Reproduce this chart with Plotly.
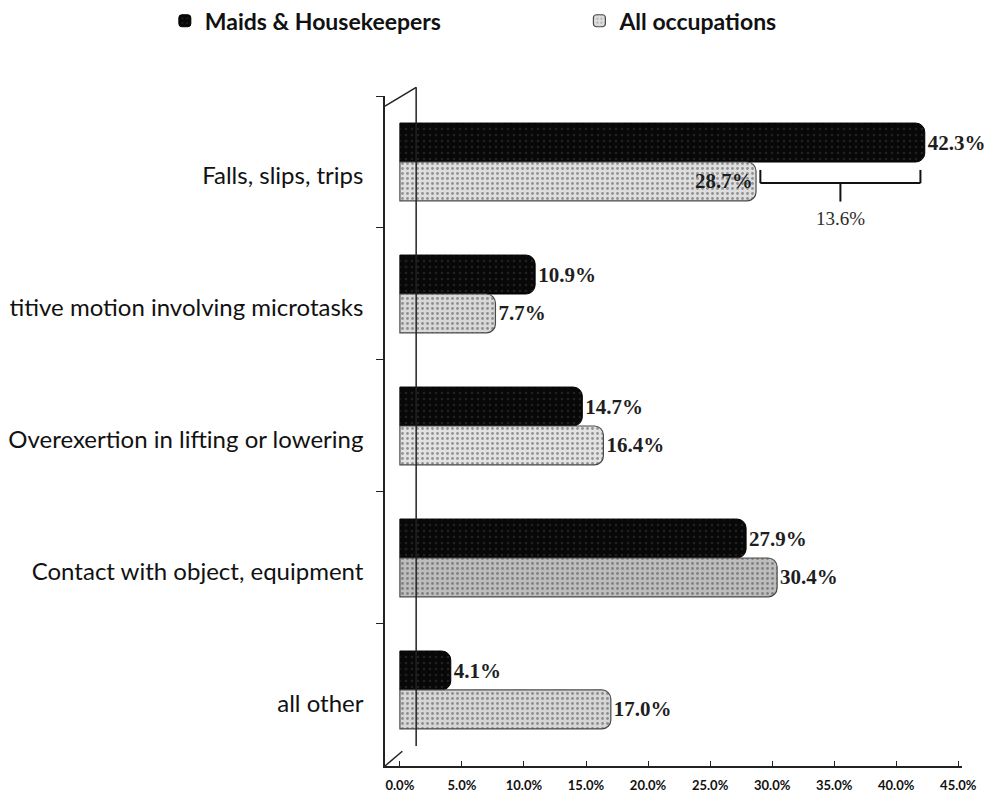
import plotly.graph_objects as go

# Injury event categories (top to bottom) and shares of injuries, in percent
categories = [
    "Falls, slips, trips",
    "titive motion involving microtasks",
    "Overexertion in lifting or lowering",
    "Contact with object, equipment",
    "all other",
]
maids = [42.3, 10.9, 14.7, 27.9, 4.1]
all_occ = [28.7, 7.7, 16.4, 30.4, 17.0]
series_names = ["Maids & Housekeepers", "All occupations"]

x_ticks = [0, 5, 10, 15, 20, 25, 30, 35, 40, 45]
x_tick_text = [f"{v:.1f}%" for v in x_ticks]

label_font = dict(family="Liberation Serif", size=21, color="#1e1e1e", weight="bold")

fig = go.Figure()

fig.add_trace(go.Bar(
    y=categories, x=maids, orientation="h", name=series_names[0],
    legend="legend",
    marker=dict(color="#080808", line=dict(color="#000000", width=1),
                cornerradius=9,
                pattern=dict(shape=".", fgcolor="#3a3a3a", bgcolor="#080808",
                             size=6, solidity=0.15)),
    text=[f"{v:.1f}%" for v in maids],
    textposition="outside", textfont=label_font, cliponaxis=False,
))

all_pos = ["inside"] + ["outside"] * (len(all_occ) - 1)
fig.add_trace(go.Bar(
    y=categories, x=all_occ, orientation="h", name=series_names[1],
    legend="legend2",
    marker=dict(color=["#dedede", "#d8d8d8", "#e2e2e2", "#bdbdbd", "#d6d6d6"],
                line=dict(color="#4a4a4a", width=1.2),
                cornerradius=9,
                pattern=dict(shape=".", fgcolor="#8a8a8a", size=5, solidity=0.25,
                             fillmode="overlay")),
    text=[f"{v:.1f}%" for v in all_occ],
    textposition=all_pos, insidetextanchor="end",
    textfont=label_font, insidetextfont=label_font, outsidetextfont=label_font,
    cliponaxis=False,
))

# Bracket showing the gap between the two "Falls" bars
gap = maids[0] - all_occ[0]
left = all_occ[0] + 0.35
right = maids[0] - 0.35
mid = (all_occ[0] + maids[0]) / 2
y_top = 0.06
y_line = 0.16
y_tick = 0.30
bracket = dict(type="line", xref="x", yref="y", line=dict(color="#111111", width=2))
fig.add_shape(**bracket, x0=left, x1=left, y0=y_top, y1=y_line)
fig.add_shape(**bracket, x0=right, x1=right, y0=y_top, y1=y_line)
fig.add_shape(**bracket, x0=left, x1=right, y0=y_line, y1=y_line)
fig.add_shape(**bracket, x0=mid, x1=mid, y0=y_line, y1=y_tick)
fig.add_annotation(x=mid, y=y_tick, xref="x", yref="y", text=f"{gap:.1f}%",
                   showarrow=False, yanchor="top", yshift=-4,
                   font=dict(family="Liberation Serif", size=19, color="#2a2a2a"))

# Side wall of the pseudo-3D plot box
wall = dict(type="line", xref="paper", yref="paper", line=dict(color="#222222", width=1.5))
fig.add_shape(**wall, x0=0.054, x1=0.054, y0=1.013, y1=0.03)
fig.add_shape(**wall, x0=0.0, x1=0.054, y0=0.985, y1=1.013)
fig.add_shape(**wall, x0=0.0, x1=0.03, y0=0.0, y1=0.022)

legend_font = dict(family="Lato", size=23, color="#111111", weight="bold")
fig.update_layout(
    width=999, height=800,
    margin=dict(l=385, r=37, t=96, b=34, autoexpand=False),
    paper_bgcolor="white", plot_bgcolor="white",
    barmode="group", bargap=0.41, bargroupgap=0.0,
    font=dict(family="Lato", color="#111111"),
    showlegend=True,
    legend=dict(orientation="h", xref="container", yref="container",
                x=0.165, xanchor="left", y=0.974, yanchor="middle",
                font=legend_font, itemwidth=30, bgcolor="rgba(0,0,0,0)"),
    legend2=dict(orientation="h", xref="container", yref="container",
                 x=0.580, xanchor="left", y=0.974, yanchor="middle",
                 font=legend_font, itemwidth=30, bgcolor="rgba(0,0,0,0)"),
    xaxis=dict(range=[-1.2, 45.3], tickvals=x_ticks, ticktext=x_tick_text,
               automargin=False,
               showgrid=False, zeroline=False, showline=True, linecolor="#222222",
               linewidth=1.5, ticks="inside", ticklen=5, tickcolor="#222222",
               ticklabelstandoff=7,
               tickfont=dict(family="Lato", size=13, color="#111111", weight="bold")),
    yaxis=dict(categoryorder="array", categoryarray=categories,
               automargin=False,
               range=[4.576, -0.5], showgrid=False, zeroline=False,
               showline=True, linecolor="#222222", linewidth=1.5,
               ticks="outside", tickson="boundaries", ticklen=7, tickcolor="#222222",
               ticklabelstandoff=15, ticklabelshift=-14,
               tickfont=dict(family="Lato", size=24, color="#111111")),
)

fig.write_html("out.html")
